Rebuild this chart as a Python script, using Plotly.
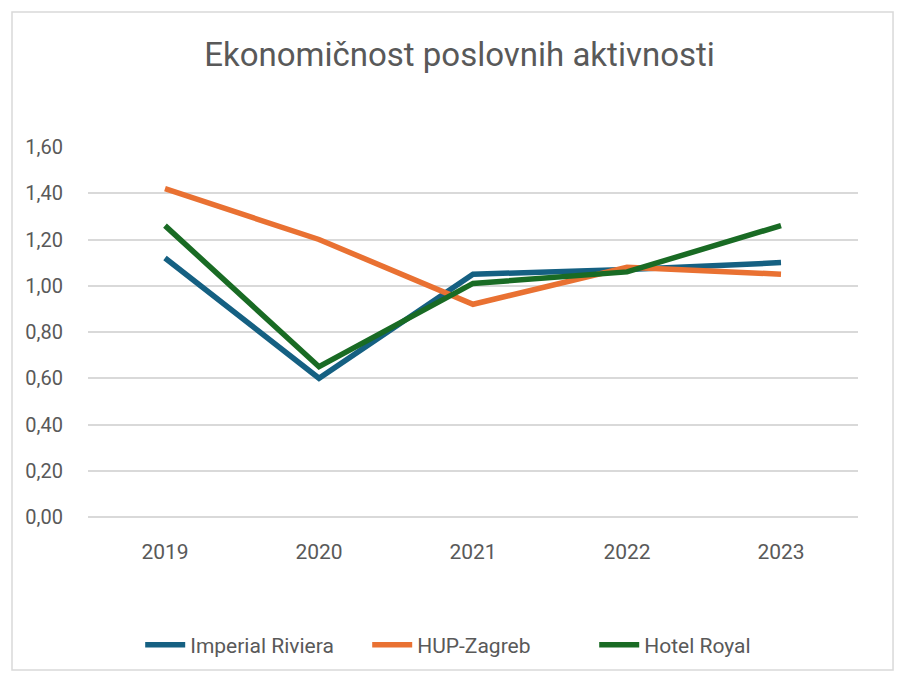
import plotly.graph_objects as go

years = ["2019", "2020", "2021", "2022", "2023"]
imperial_riviera = [1.12, 0.60, 1.05, 1.07, 1.10]
hup_zagreb = [1.42, 1.20, 0.92, 1.08, 1.05]
hotel_royal = [1.26, 0.65, 1.01, 1.06, 1.26]

series = [
    ("Imperial Riviera", imperial_riviera, "#156082"),
    ("HUP-Zagreb", hup_zagreb, "#E97132"),
    ("Hotel Royal", hotel_royal, "#196B24"),
]

fig = go.Figure()
for name, vals, col in series:
    fig.add_trace(go.Scatter(x=years, y=vals, name=name, mode="lines",
                             line=dict(color=col, width=5.5)))

# chart border
fig.add_shape(type="rect", xref="paper", yref="paper",
              x0=-0.0987, x1=1.0455, y0=-0.4135, y1=1.365,
              line=dict(color="#D9D9D9", width=1.5), layer="below")

fig.update_layout(
    width=901, height=677,
    margin=dict(l=88, r=43, t=147, b=160),
    paper_bgcolor="white", plot_bgcolor="white",
    separators=",.",
    title=dict(text="Ekonomičnost poslovnih aktivnosti",
               x=0.51, xanchor="center", y=0.919, yanchor="middle",
               font=dict(family="Roboto", size=33, color="#595959")),
    legend=dict(orientation="h", x=0.51, xanchor="center", y=-0.346, yanchor="middle",
                font=dict(family="Roboto", size=21, color="#595959"),
                itemwidth=40, entrywidth=172, entrywidthmode="pixels",
                tracegroupgap=0),
    showlegend=True,
)
fig.update_xaxes(type="category", range=[-0.5, 4.5], showgrid=False, showline=False, ticks="",
                 tickfont=dict(family="Roboto", size=21, color="#595959"),
                 ticklabelstandoff=20)
fig.update_yaxes(range=[0, 1.6], dtick=0.2, tickformat=".2f",
                 showgrid=True, gridcolor="#D9D9D9", gridwidth=1.5,
                 zeroline=True, zerolinecolor="#D9D9D9", zerolinewidth=1.5,
                 showline=False, ticks="",
                 tickfont=dict(family="Roboto", size=20, color="#595959"),
                 ticklabelstandoff=24)

fig.write_html("out.html", config={"displayModeBar": False},
               post_script="document.body.style.margin='0';")
